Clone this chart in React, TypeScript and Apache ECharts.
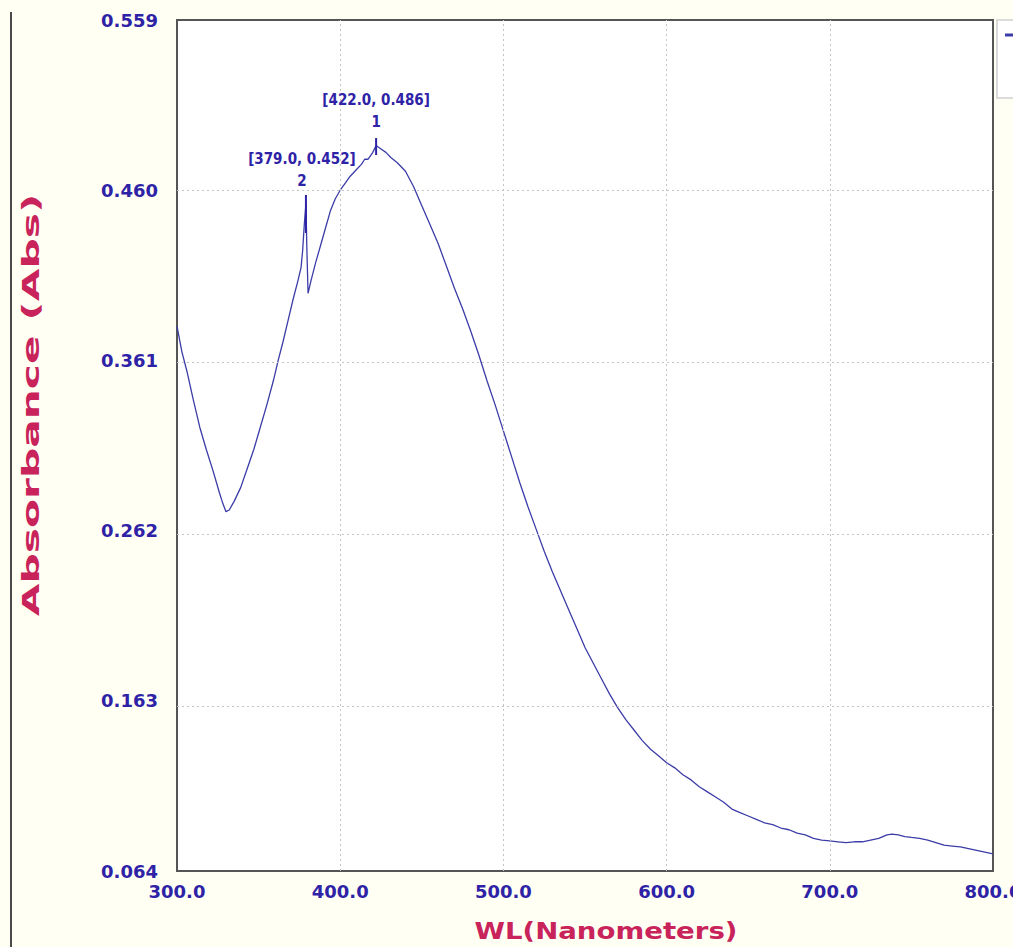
import React, { useEffect, useRef } from "react";
import * as echarts from "echarts";

// Wavelength (nm) and absorbance
const wavelengths = [
  300, 303, 306, 310, 314, 318, 322, 326, 328, 330, 332, 335, 339, 343, 347, 351, 355, 359, 362, 365,
  368, 371, 374, 376, 377, 378, 379, 379.6, 380.3, 382, 385, 388, 391, 394, 397, 400, 403, 406, 410, 413,
  415, 417, 420, 422, 425, 428, 431, 435, 440, 445, 450, 455, 460, 465, 470, 475, 480, 485, 490, 495,
  500, 505, 510, 515, 520, 525, 530, 535, 540, 545, 550, 555, 560, 565, 570, 575, 580, 585, 590, 595,
  600, 605, 610, 615, 620, 625, 630, 635, 640, 645, 650, 655, 660, 665, 670, 675, 680, 685, 690, 695,
  700, 705, 710, 715, 720, 725, 730, 735, 738, 742, 746, 750, 755, 760, 765, 770, 775, 780, 785, 790,
  795, 800,
];
const absorbance = [
  0.381, 0.366, 0.355, 0.338, 0.322, 0.309, 0.297, 0.284, 0.278, 0.273, 0.274, 0.279, 0.287, 0.298, 0.309, 0.322, 0.335, 0.349, 0.361, 0.372,
  0.384, 0.396, 0.407, 0.415, 0.425, 0.44, 0.452, 0.425, 0.4, 0.407, 0.418, 0.428, 0.438, 0.448, 0.455, 0.46, 0.464, 0.468, 0.472, 0.475,
  0.478, 0.478, 0.482, 0.486, 0.484, 0.482, 0.479, 0.476, 0.471, 0.462, 0.451, 0.44, 0.429, 0.416, 0.403, 0.391, 0.378, 0.364, 0.349, 0.335,
  0.32, 0.305, 0.29, 0.276, 0.263, 0.25, 0.238, 0.227, 0.216, 0.205, 0.194, 0.185, 0.176, 0.167, 0.159, 0.152, 0.146, 0.14, 0.135, 0.131,
  0.127, 0.124, 0.12, 0.117, 0.113, 0.11, 0.107, 0.104, 0.1, 0.098, 0.096, 0.094, 0.092, 0.091, 0.089, 0.088, 0.086, 0.085, 0.083, 0.082,
  0.0815, 0.081, 0.0805, 0.081, 0.081, 0.082, 0.083, 0.085, 0.0855, 0.085, 0.084, 0.0835, 0.083, 0.082, 0.0805, 0.079, 0.0785, 0.078, 0.077, 0.076,
  0.075, 0.074,
];

const xTicks = [300, 400, 500, 600, 700, 800];
const yTicks = [0.064, 0.163, 0.262, 0.361, 0.46, 0.559];

const peakIds = ["1", "2"];
const peakWl = [422.0, 379.0];
const peakAbs = [0.486, 0.452];

const BLUE = "#2e22a6";
const CRIMSON = "#c8235a";
const LINE = "#3c3ca8";
const GRID = "#c4c4c4";
const NARROW = '"DejaVu Sans Condensed", "Liberation Sans Narrow", "Liberation Sans", sans-serif';

export default function App() {
  const ref = useRef<HTMLDivElement>(null);

  useEffect(() => {
    document.body.style.margin = "0";
    const chart = echarts.init(ref.current!, null, { renderer: "svg" });
    const data = wavelengths.map((w, i) => [w, absorbance[i]]);
    const tickStyle = [
      { len: 17, off: 1 },
      { len: 38, off: 10 },
    ];
    const labelOff = [
      [0, -35],
      [-4, -34],
    ];
    const peakText = {
      color: BLUE,
      fontFamily: NARROW,
      fontWeight: "bold",
      fontSize: 15,
      lineHeight: 22,
    };

    const option: any = {
      animation: false,
      backgroundColor: "#fffff4",
      grid: {
        left: 177,
        right: 20,
        top: 20,
        bottom: 76,
        containLabel: false,
        outerBoundsMode: "none",
        show: true,
        backgroundColor: "#ffffff",
        borderColor: "#555555",
        borderWidth: 2,
      },
      xAxis: {
        type: "value",
        min: xTicks[0],
        max: xTicks[xTicks.length - 1],
        interval: 100,
        axisLine: { show: false },
        axisTick: { show: false },
        splitLine: { show: false },
        axisLabel: {
          formatter: (v: number) => v.toFixed(1),
          color: BLUE,
          fontFamily: "DejaVu Sans",
          fontWeight: "bold",
          fontSize: 18,
          margin: 11,
          showMinLabel: true,
          showMaxLabel: true,
          hideOverlap: false,
        },
      },
      yAxis: {
        type: "value",
        min: yTicks[0],
        max: yTicks[yTicks.length - 1],
        axisLine: { show: false },
        axisTick: { show: false, customValues: yTicks },
        splitLine: { show: false },
        axisLabel: {
          customValues: yTicks,
          formatter: (v: number) => v.toFixed(3),
          color: BLUE,
          fontFamily: "DejaVu Sans",
          fontWeight: "bold",
          fontSize: 18,
          margin: 19,
        },
      },
      series: [
        {
          type: "line",
          data,
          symbol: "none",
          showSymbol: false,
          lineStyle: { color: LINE, width: 1.3 },
          markLine: {
            silent: true,
            symbol: "none",
            label: { show: false },
            lineStyle: { color: GRID, type: [2, 3], width: 1 },
            data: [
              ...yTicks.slice(1, -1).map((v) => ({ yAxis: v })),
              ...xTicks.slice(1, -1).map((v) => ({ xAxis: v })),
            ],
          },
          markPoint: {
            silent: true,
            data: [
              ...peakWl.map((w, i) => ({
                coord: [w, peakAbs[i]],
                symbol: "rect",
                symbolSize: [2, tickStyle[i].len],
                symbolOffset: [0, tickStyle[i].off],
                itemStyle: { color: BLUE },
                label: { show: false },
              })),
              ...peakWl.map((w, i) => ({
                coord: [w, peakAbs[i]],
                symbol: "circle",
                symbolSize: 1,
                itemStyle: { color: "rgba(0,0,0,0)" },
                label: {
                  show: true,
                  position: "inside",
                  offset: labelOff[i],
                  formatter: `{a|[${w.toFixed(1)}, ${peakAbs[i].toFixed(3)}]}\n{b|${peakIds[i]}}`,
                  rich: { a: peakText, b: peakText },
                },
              })),
            ],
          },
        },
      ],
      graphic: [
        {
          type: "line",
          shape: { x1: 11, y1: 12, x2: 11, y2: 947 },
          style: { stroke: "#4a4a4a", lineWidth: 2 },
        },
        {
          type: "rect",
          shape: { x: 997, y: 20, width: 40, height: 78 },
          style: { fill: "#ffffff", stroke: "#cfcfcf", lineWidth: 1.5 },
        },
        {
          type: "line",
          shape: { x1: 1005, y1: 35, x2: 1013, y2: 35 },
          style: { stroke: LINE, lineWidth: 3 },
        },
        {
          type: "text",
          x: 606,
          y: 931,
          scaleX: 1.2,
          style: {
            text: "WL(Nanometers)",
            fill: CRIMSON,
            font: 'bold 23px "DejaVu Sans"',
            align: "center",
            verticalAlign: "middle",
          },
        },
        {
          type: "text",
          x: 31,
          y: 405,
          rotation: Math.PI / 2,
          scaleX: 1.84,
          style: {
            text: "Absorbance (Abs)",
            fill: CRIMSON,
            font: 'bold 23px "DejaVu Sans"',
            align: "center",
            verticalAlign: "middle",
          },
        },
      ],
    };
    chart.setOption(option);
    return () => chart.dispose();
  }, []);

  return <div ref={ref} style={{ width: 1013, height: 947, background: "#fffff4" }} />;
}
